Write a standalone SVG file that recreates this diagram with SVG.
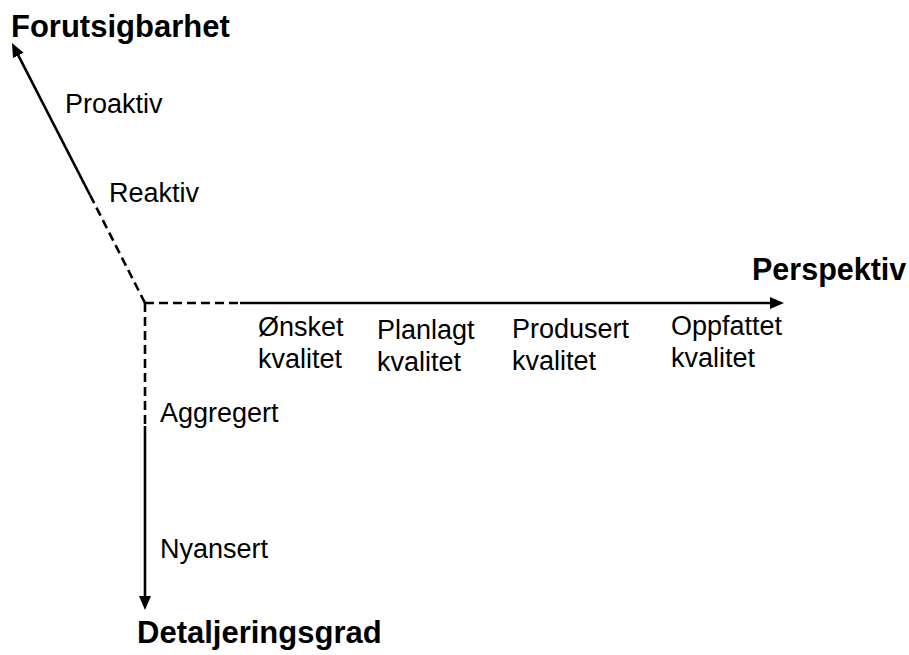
<svg xmlns="http://www.w3.org/2000/svg" width="909" height="655" viewBox="0 0 909 655">
  <defs>
    <style>
      .axis { stroke: #000; stroke-width: 2.6; fill: none; }
      .dash { stroke: #000; stroke-width: 2.6; fill: none; stroke-dasharray: 9 5; }
      .title { font-family: "Liberation Sans", Arial, sans-serif; font-weight: bold; font-size: 31px; fill: #000; }
      .lbl { font-family: "Liberation Sans", Arial, sans-serif; font-size: 27px; fill: #000; }
    </style>
    <marker id="arrow" markerUnits="userSpaceOnUse" markerWidth="14" markerHeight="12" refX="10" refY="6" orient="auto">
      <path d="M0,0 L14,6 L0,12 z" fill="#000"/>
    </marker>
  </defs>
  <g id="connectors">
    <line class="dash" x1="145" y1="303" x2="90" y2="195"/>
    <line class="axis" x1="90" y1="195" x2="13.8" y2="46.6" marker-end="url(#arrow)"/>
    <line class="dash" x1="145" y1="303" x2="240" y2="303"/>
    <line class="axis" x1="240" y1="303" x2="780" y2="303" marker-end="url(#arrow)"/>
    <line class="dash" x1="145" y1="303" x2="145" y2="426"/>
    <line class="axis" x1="145" y1="426" x2="145" y2="606" marker-end="url(#arrow)"/>
  </g>
  <g id="axis-forutsigbarhet">
    <text class="title" x="11" y="37">Forutsigbarhet</text>
    <text class="lbl" x="65" y="113">Proaktiv</text>
    <text class="lbl" x="109" y="202">Reaktiv</text>
  </g>
  <g id="axis-perspektiv">
    <text class="title" x="752" y="280" style="font-size:30.5px">Perspektiv</text>
    <g id="onsket">
      <text class="lbl" x="258" y="336">Ønsket</text>
      <text class="lbl" x="258" y="368">kvalitet</text>
    </g>
    <g id="planlagt">
      <text class="lbl" x="377" y="339">Planlagt</text>
      <text class="lbl" x="377" y="371">kvalitet</text>
    </g>
    <g id="produsert">
      <text class="lbl" x="512" y="338">Produsert</text>
      <text class="lbl" x="512" y="370">kvalitet</text>
    </g>
    <g id="oppfattet">
      <text class="lbl" x="671" y="335">Oppfattet</text>
      <text class="lbl" x="671" y="367">kvalitet</text>
    </g>
  </g>
  <g id="axis-detaljeringsgrad">
    <text class="lbl" x="160" y="422">Aggregert</text>
    <text class="lbl" x="160" y="558">Nyansert</text>
    <text class="title" x="137" y="643">Detaljeringsgrad</text>
  </g>
</svg>
